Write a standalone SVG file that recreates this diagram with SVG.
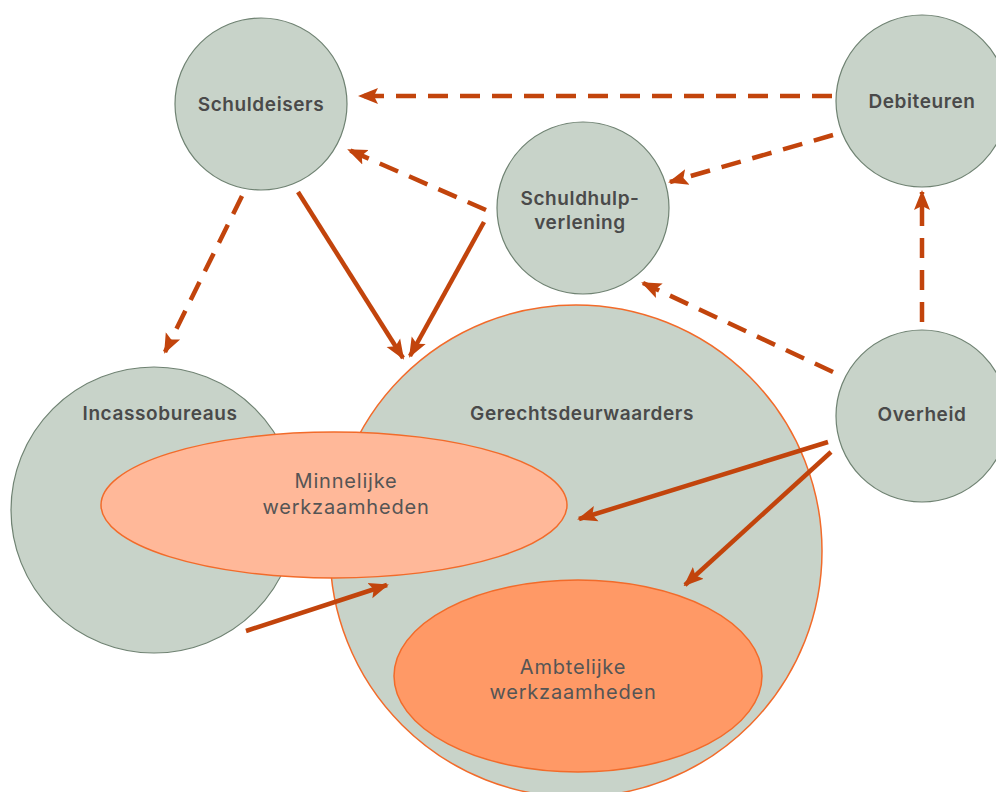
<svg xmlns="http://www.w3.org/2000/svg" width="996" height="792" viewBox="0 0 996 792">
<style>
.node{fill:#c8d3c9;stroke:#6f8272;stroke-width:1.2}
.big{fill:#c8d3c9;stroke:#f26b2a;stroke-width:1.5}
.lbl{font-family:"Inter","Open Sans","Liberation Sans",sans-serif;font-weight:600;font-size:19px;fill:#4a4a4a;text-anchor:middle;letter-spacing:0.6px}
.sub{font-family:"Inter","Open Sans","Liberation Sans",sans-serif;font-weight:400;font-size:20px;fill:#555;text-anchor:middle;letter-spacing:0.8px}
.c{stroke:#c2440c;stroke-width:4.5;fill:none;marker-end:url(#ah)}
.d{stroke-dasharray:20 12}
</style>
<defs>
<marker id="ah" markerUnits="userSpaceOnUse" markerWidth="20" markerHeight="20" viewBox="0 0 20 20" refX="18" refY="10" orient="auto">
<path d="M0,2 L20,10 L0,18 L4,10 Z" fill="#c2440c"/>
</marker>
</defs>
<rect width="996" height="792" fill="#fff"/>
<g id="incassobureaus">
<circle class="node" cx="154" cy="510" r="143"/>
<text class="lbl" x="160" y="420">Incassobureaus</text>
</g>
<g id="gerechtsdeurwaarders">
<circle class="big" cx="576" cy="551" r="246"/>
<text class="lbl" x="582" y="420">Gerechtsdeurwaarders</text>
</g>
<g id="minnelijke">
<ellipse cx="334" cy="505" rx="233" ry="73" fill="#ffb899" stroke="#f26b2a" stroke-width="1.5"/>
<text class="sub" x="346" y="488">Minnelijke</text>
<text class="sub" x="346" y="514">werkzaamheden</text>
</g>
<g id="ambtelijke">
<ellipse cx="578" cy="676" rx="184" ry="96" fill="#ff9966" stroke="#f26b2a" stroke-width="1.5"/>
<text class="sub" x="573" y="674">Ambtelijke</text>
<text class="sub" x="573" y="699">werkzaamheden</text>
</g>
<g id="schuldeisers">
<circle class="node" cx="261" cy="104" r="86"/>
<text class="lbl" x="261" y="111">Schuldeisers</text>
</g>
<g id="debiteuren">
<circle class="node" cx="922" cy="101" r="86"/>
<text class="lbl" x="922" y="108">Debiteuren</text>
</g>
<g id="schuldhulpverlening">
<circle class="node" cx="583" cy="208" r="86"/>
<text class="lbl" x="580" y="205">Schuldhulp-</text>
<text class="lbl" x="580" y="229">verlening</text>
</g>
<g id="overheid">
<circle class="node" cx="922" cy="416" r="86"/>
<text class="lbl" x="922" y="421">Overheid</text>
</g>
<g id="connectors">
<line class="c d" x1="832" y1="96" x2="360" y2="96"/>
<line class="c d" x1="833" y1="135" x2="670" y2="182"/>
<line class="c d" x1="486" y1="210" x2="349" y2="150"/>
<line class="c d" x1="242" y1="196" x2="165" y2="352"/>
<line class="c" x1="298" y1="192" x2="403" y2="358"/>
<line class="c" x1="484" y1="222" x2="410" y2="356"/>
<line class="c d" x1="833" y1="372" x2="643" y2="283"/>
<line class="c d" x1="922" y1="322" x2="922" y2="192"/>
<line class="c" x1="828" y1="442" x2="579" y2="519"/>
<line class="c" x1="831" y1="452" x2="685" y2="585"/>
<line class="c" x1="246" y1="631" x2="387" y2="585"/>
</g>
</svg>
